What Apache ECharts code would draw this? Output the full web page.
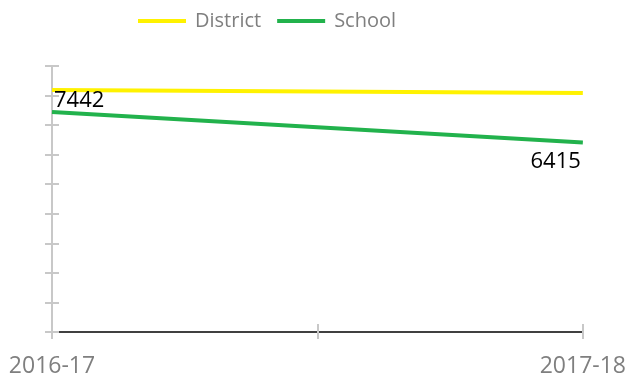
<!DOCTYPE html>
<html>
<head>
<meta charset="utf-8">
<script src="https://cdn.jsdelivr.net/npm/echarts@6/dist/echarts.min.js"></script>
<style>
  html, body { margin: 0; padding: 0; background: #fff; }
  #chart { width: 629px; height: 381px; }
</style>
</head>
<body>
<div id="chart"></div>
<script>
// years on the x axis
const years = ['2016-17', '2017-18'];
// series values
const districtValues = [8190, 8090];
const schoolValues = [7442, 6415];
// value axis range
const yMin = 0;
const yMax = 9000;
const yStep = 1000;

const FONT = '"Open Sans", "Liberation Sans", sans-serif';

// labels: first one above-right of the point, last one below-left
const schoolLabels = [
  { position: 'top', align: 'left', distance: 0, offset: [2, 0] },
  { position: 'bottom', align: 'right', distance: 8, offset: [-2, 0] }
];

const chart = echarts.init(document.getElementById('chart'));

const option = {
  animation: false,
  legend: {
    top: 6,
    left: 133,
    itemWidth: 48,
    itemHeight: 4,
    itemGap: 16,
    icon: 'rect',
    textStyle: { color: '#7f7f7f', fontSize: 20, fontFamily: FONT, padding: [0, 0, 0, 4] },
    data: ['District', 'School']
  },
  grid: { left: 52, right: 45, top: 66, bottom: 49 },
  xAxis: [
    {
      type: 'category',
      data: years,
      boundaryGap: false,
      axisLine: { lineStyle: { color: '#404040', width: 2 } },
      axisTick: { show: false },
      axisLabel: { color: '#7f7f7f', fontSize: 23, fontFamily: FONT, margin: 23 }
    },
    {
      // tick marks below the axis
      type: 'category',
      data: years,
      boundaryGap: true,
      position: 'bottom',
      axisLine: { show: false },
      axisTick: { show: true, length: 7, lineStyle: { color: '#c8c8c8', width: 2 } },
      axisLabel: { show: false }
    },
    {
      // tick marks above the axis
      type: 'category',
      data: years,
      boundaryGap: true,
      position: 'bottom',
      axisLine: { show: false },
      axisTick: { show: true, inside: true, length: 8, lineStyle: { color: '#c8c8c8', width: 2 } },
      axisLabel: { show: false }
    }
  ],
  yAxis: [
    {
      type: 'value',
      min: yMin, max: yMax, interval: yStep,
      axisLine: { show: true, lineStyle: { color: '#c8c8c8', width: 2 } },
      axisTick: { show: true, length: 7, lineStyle: { color: '#c8c8c8', width: 2 } },
      axisLabel: { show: false },
      splitLine: { show: false }
    },
    {
      type: 'value',
      position: 'left',
      min: yMin, max: yMax, interval: yStep,
      axisLine: { show: false },
      axisTick: { show: true, inside: true, length: 7, lineStyle: { color: '#c8c8c8', width: 2 } },
      axisLabel: { show: false },
      splitLine: { show: false }
    }
  ],
  series: [
    {
      name: 'District',
      type: 'line',
      data: districtValues,
      symbol: 'none',
      color: '#fff200',
      lineStyle: { color: '#fff200', width: 4 },
      z: 3
    },
    {
      name: 'School',
      type: 'line',
      data: schoolValues.map((v, i) => ({ value: v, label: schoolLabels[i] })),
      symbol: 'circle',
      symbolSize: 0.1,
      color: '#22b24c',
      itemStyle: { color: '#22b24c' },
      lineStyle: { color: '#22b24c', width: 4 },
      label: { show: true, color: '#000', fontSize: 22, fontFamily: FONT },
      z: 4
    }
  ]
};

chart.setOption(option);
</script>
</body>
</html>
